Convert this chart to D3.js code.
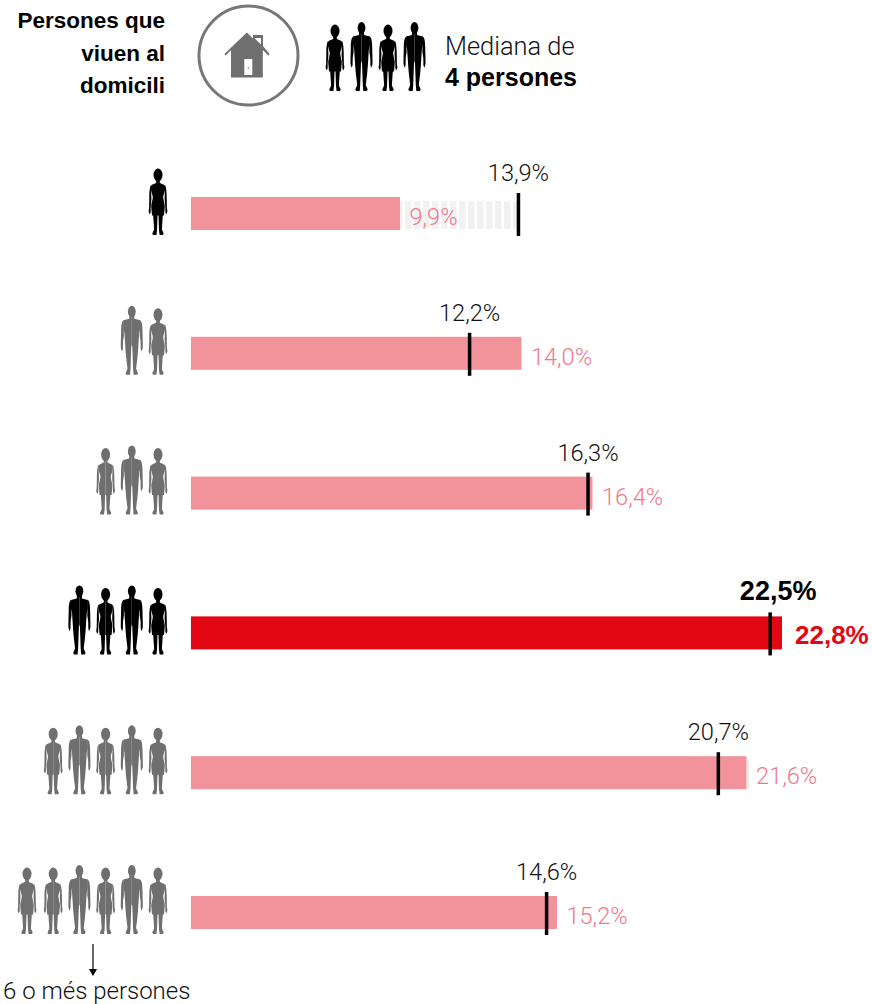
<!DOCTYPE html>
<html><head><meta charset="utf-8">
<script src="https://cdn.jsdelivr.net/npm/d3@7/dist/d3.min.js"></script>
<style>html,body{margin:0;padding:0;background:#fff}svg{display:block}
text{font-family:"Liberation Sans",Arial,sans-serif;}
.l{font-family:Roboto,"Liberation Sans",sans-serif;font-weight:300}</style>
</head><body><svg id="c" width="872" height="1004"></svg>
<script>
const categories = ["1","2","3","4","5","6+"];
const barValues = [9.9,14.0,16.4,22.8,21.6,15.2];
const barLabels = ["9,9%","14,0%","16,4%","22,8%","21,6%","15,2%"];
const markerValues = [13.9,12.25,16.25,22.4,20.65,14.85];
const markerLabels = ["13,9%","12,2%","16,3%","22,5%","20,7%","14,6%"];
const hatchEnd = [13.9,null,null,null,21.7,null];
const people = [["w"],["m","w"],["w","m","w"],["m","w","m","w"],["w","m","w","m","w"],["w","w","m","w","m","w"]];
const titleLines = ["Persones que","viuen al","domicili"];
const medianPeople = ["w","m","w","m"];
const highlight = "4";
const base = 2.84;

const svg = d3.select("#c");
const x = d3.scaleLinear().domain([9.9,22.8]).range([400,782]);
const y = d3.scalePoint().domain(categories).range([197,896]);
const slot = d3.scaleLinear().domain([0,5]).range([158,27]);
const BH = 33;

const shapes = {
 w:{H:66.5,head:[6.5,4.5,6.5],
    b:"M0,11 L1.7,11 L1.9,14.5 L6,16.3 C7.4,17 7.4,19 6.9,22 C6.4,25 5,27 5.2,29 C5.4,32 6.7,35 6.8,38 L6,47 L4.8,47 L4.2,56 L3.9,61 L5.7,65 L5,66.5 L1.6,66.5 L1,62 L0.5,47 L0,47 Z",
    a:"M6.8,16.6 C8,17.6 8.6,22 8.7,28 L8.9,39 L9.4,43 L8.3,46 L7.4,44 L7.3,38 L6.6,31 L6.9,22 Z"},
 m:{H:69,head:[5.8,3.9,5.8],
    b:"M0,9 L2.4,9 L2.6,13 L8.4,14.5 L8.4,23 L7.4,27 L6.8,36 L6.3,44 L5.6,52 L4.3,63 L6.2,67.5 L5.4,69 L1.8,69 L1.3,63 L0.5,41 L0,39 Z",
    a:"M8,14.4 C10,15 10.6,19 10.7,25 L11,38 L11,42 L9.8,46 L8.9,43 L8.8,36 L7.9,30 L8,22 Z"}
};
function person(g, type, cx, bottom, color){
  const s = shapes[type];
  const p = g.append("g").attr("transform",`translate(${cx},${bottom-s.H})`).attr("fill",color);
  p.append("ellipse").attr("cx",0).attr("cy",s.head[0]).attr("rx",s.head[1]).attr("ry",s.head[2]);
  [1,-1].forEach(k=>{
    const q=p.append("g").attr("transform",`scale(${k},1)`);
    q.append("path").attr("d",s.b);
    q.append("path").attr("d",s.a);
  });
}

// header
svg.append("g").selectAll("text").data(titleLines).join("text")
  .attr("x",165).attr("y",(d,i)=>28+i*32.5).attr("text-anchor","end")
  .attr("font-size",22.5).attr("font-weight",700).attr("fill","#000").text(d=>d);
svg.append("circle").attr("cx",248.5).attr("cy",55.5).attr("r",49.5).attr("fill","none").attr("stroke","#777").attr("stroke-width",3);
svg.append("path").attr("fill","#6f6f6f").attr("d","M253,35 H263 V46 L269.6,54 L268.4,55.6 L262.8,50 V77.5 H231 V50 L225.6,55.6 L224.4,54 L246.8,32.5 L253,38.5 Z");
svg.append("path").attr("d","M255,38 H261 V44.5 L255,38.8 Z").attr("fill","#fff");
svg.append("rect").attr("x",244.3).attr("y",59).attr("width",8).attr("height",16).attr("fill","#fff");
svg.append("circle").attr("cx",248.3).attr("cy",68).attr("r",0.8).attr("fill","#6f6f6f");
const topSlot=d3.scaleLinear().domain([0,3]).range([335,414.5]);
medianPeople.forEach((t,i)=>person(svg,t,topSlot(i),91,"#000"));
svg.append("text").attr("class","l").attr("x",445).attr("y",55).attr("font-size",25.4).attr("fill","#111").text("Mediana de");
svg.append("text").attr("x",445).attr("y",86).attr("font-size",25).attr("font-weight",700).attr("fill","#000").text("4 persones");

// rows
const defs=svg.append("defs");
defs.append("pattern").attr("id","h").attr("patternUnits","userSpaceOnUse").attr("width",9).attr("height",10)
  .append("rect").attr("width",6.5).attr("height",10).attr("fill","#f1f1f1");

categories.forEach((c,i)=>{
  const g=svg.append("g");
  const Y=y(c), hi=c===highlight;
  const color=hi?"#e30613":"#f2929b";
  if(hatchEnd[i]!=null){
    g.append("rect").attr("x",x(barValues[i])).attr("y",Y+4).attr("width",x(hatchEnd[i])-x(barValues[i])).attr("height",BH-5)
     .attr("fill",i===0?"url(#h)":"#ececec");
  }
  g.append("rect").attr("x",x(base)).attr("y",Y).attr("width",x(barValues[i])-x(base)).attr("height",BH).attr("fill",color);
  g.append("rect").attr("x",x(markerValues[i])-1.75).attr("y",Y-4).attr("width",3.5).attr("height",43).attr("fill","#000");
  g.append("text").attr("class",hi?null:"l")
   .attr("x",x(barValues[i])+(hi?13:9.5)).attr("y",Y+28)
   .attr("font-size",hi?26:23.6).attr("font-weight",hi?700:300).attr("fill",hi?"#e30613":"#f2788a").text(barLabels[i]);
  g.append("text").attr("class",hi?null:"l")
   .attr("x",x(markerValues[i])+(hi?8:0)).attr("y",Y-16).attr("text-anchor","middle")
   .attr("font-size",hi?27:23.6).attr("font-weight",hi?700:300).attr("fill",hi?"#000":"#111").text(markerLabels[i]);
  const n=people[i].length;
  people[i].forEach((t,k)=>person(g,t,slot(n-1-k),Y+38,(i===0||hi)?"#000":"#6f6f6f"));
});

// footnote
svg.append("line").attr("x1",93).attr("x2",93).attr("y1",944).attr("y2",970).attr("stroke","#000").attr("stroke-width",1.2);
svg.append("path").attr("d","M89,969 H97 L93,976 Z").attr("fill","#000");
svg.append("text").attr("class","l").attr("x",3).attr("y",999).attr("font-size",24).attr("fill","#111").text("6 o més persones");
</script></body></html>
